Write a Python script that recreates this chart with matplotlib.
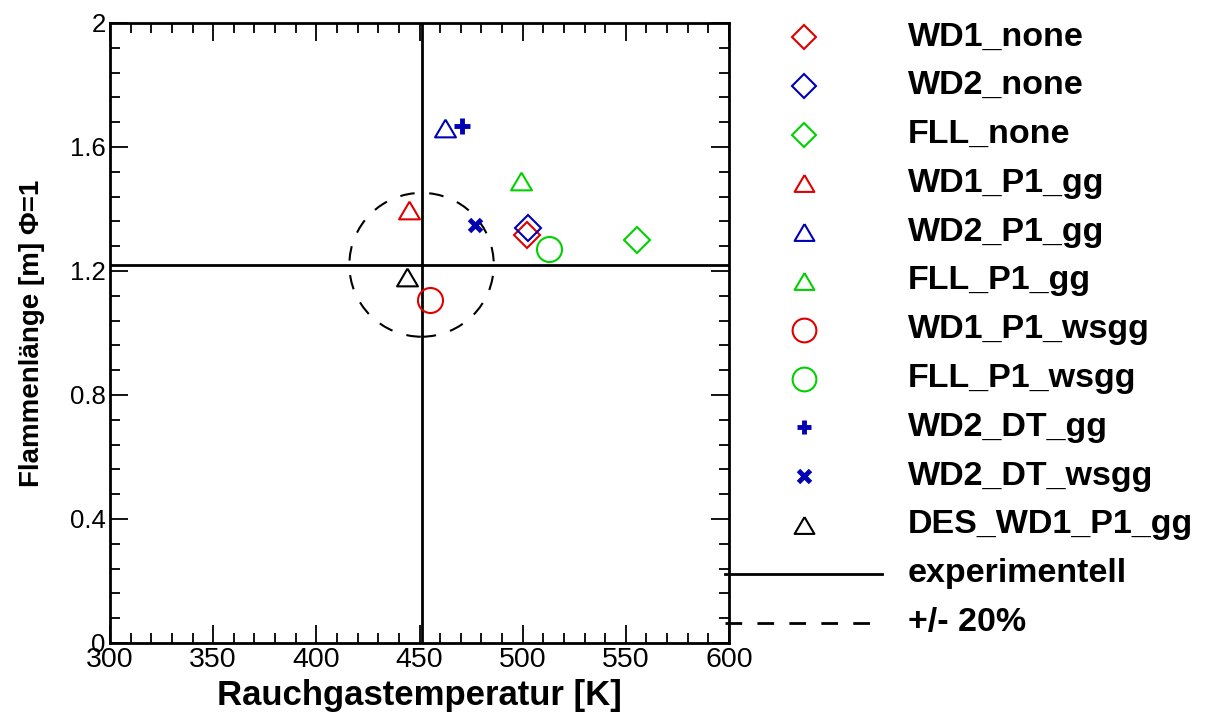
import matplotlib
matplotlib.use("Agg")
import matplotlib.pyplot as plt
from matplotlib.patches import Ellipse
from matplotlib.ticker import MultipleLocator

# ---- data ----
series_labels = ["WD1_none", "WD2_none", "FLL_none", "WD1_P1_gg", "WD2_P1_gg",
                 "FLL_P1_gg", "WD1_P1_wsgg", "FLL_P1_wsgg", "WD2_DT_gg",
                 "WD2_DT_wsgg", "DES_WD1_P1_gg"]
temps = [502, 502.5, 555.5, 445, 462.5, 499, 455, 513, 470.5, 477, 444]
lengths = [1.316, 1.340, 1.300, 1.397, 1.660, 1.490, 1.106, 1.272, 1.668, 1.348, 1.180]
exp_temp = 451
exp_length = 1.22
tol_temp = 35
tol_length = 0.232
line_labels = ["experimentell", "+/- 20%"]
x_ticks = [300, 350, 400, 450, 500, 550, 600]
y_ticks = [0, 0.4, 0.8, 1.2, 1.6, 2]
y_tick_labels = ["0", "0.4", "0.8", "1.2", "1.6", "2"]

# ---- styles ----
RED, BLUE, GREEN, BLACK = "#e00000", "#0000b4", "#00d200", "#000000"
TRI = [(0, 0.85), (-1, -0.85), (1, -0.85), (0, 0.85)]
styles = [
    dict(marker="D", color=RED, ms=13),
    dict(marker="D", color=BLUE, ms=13),
    dict(marker="D", color=GREEN, ms=13),
    dict(marker=TRI, color=RED, ms=15),
    dict(marker=TRI, color=BLUE, ms=15),
    dict(marker=TRI, color=GREEN, ms=15),
    dict(marker="o", color=RED, ms=18),
    dict(marker="o", color=GREEN, ms=18),
    dict(marker="+", color=BLUE, ms=11, mew=3.5),
    dict(marker="x", color=BLUE, ms=9, mew=3.5),
    dict(marker=TRI, color=BLACK, ms=15),
]

plt.rcParams["font.family"] = ["Liberation Sans", "DejaVu Sans"]

fig = plt.figure(figsize=(12.1, 7.22), dpi=100)
W, H = 1210, 722
ax = fig.add_axes([110 / W, 1 - 643 / H, (729 - 110) / W, (643 - 23) / H])

for t, l, st in zip(temps, lengths, styles):
    st = dict(st)
    mew = st.pop("mew", 1.5)
    c = st.pop("color")
    ax.plot([t], [l], linestyle="none", mfc="none", mec=c, mew=mew,
            marker=st["marker"], ms=st["ms"], zorder=5)

ax.axvline(exp_temp, color="black", lw=2.0, zorder=3)
ax.axhline(exp_length, color="black", lw=2.0, zorder=3)
ax.add_patch(Ellipse((exp_temp, exp_length), 2 * tol_temp, 2 * tol_length,
                     fill=False, ec="black", lw=1.5, ls=(0, (7, 7)), zorder=3))

ax.set_xlim(300, 600)
ax.set_ylim(0, 2)
ax.set_xticks(x_ticks)
ax.set_yticks(y_ticks)
ax.set_yticklabels(y_tick_labels)
ax.xaxis.set_minor_locator(MultipleLocator(10))
ax.yaxis.set_minor_locator(MultipleLocator(0.08))
ax.tick_params(which="both", direction="in", top=True, right=True, width=1.3,
               color="black")
ax.tick_params(which="major", length=13)
ax.tick_params(which="minor", length=7)
ax.tick_params(axis="x", labelsize=20.5, pad=3)
ax.tick_params(axis="y", labelsize=18.5, pad=3)
for s in ax.spines.values():
    s.set_linewidth(2.0)

ax.set_xlabel("Rauchgastemperatur [K]", fontsize=25, fontweight="bold", labelpad=4)
ax.set_ylabel("Flammenlänge [m] Φ=1", fontsize=20, fontweight="bold", labelpad=18)

# ---- legend (manual, in pixel coordinates of the figure) ----
lg = fig.add_axes([0, 0, 1, 1], facecolor="none")
lg.set_xlim(0, W)
lg.set_ylim(H, 0)
lg.axis("off")
row_y0, row_dy = 37, 48.8
mx, tx = 804, 908
for i, (lab, st) in enumerate(zip(series_labels, styles)):
    y = row_y0 + i * row_dy
    st = dict(st)
    mew = st.pop("mew", 1.5)
    c = st.pop("color")
    lg.plot([mx], [y], linestyle="none", mfc="none", mec=c, mew=mew,
            marker=st["marker"], ms=st["ms"] * 0.95, clip_on=False)
    lg.text(tx, y, lab, fontsize=24.5, fontweight="bold", va="center", ha="left")
n = len(series_labels)
y_solid = row_y0 + n * row_dy
y_dash = row_y0 + (n + 1) * row_dy
lg.plot([725, 882], [y_solid, y_solid], color="black", lw=2.0, clip_on=False)
lg.plot([725, 874], [y_dash, y_dash], color="black", lw=2.0, ls=(0, (6, 5.5)),
        clip_on=False)
lg.text(tx, y_solid, line_labels[0], fontsize=24.5, fontweight="bold", va="center", ha="left")
lg.text(tx, y_dash, line_labels[1], fontsize=24.5, fontweight="bold", va="center", ha="left")

fig.savefig("out.png", dpi=100)
